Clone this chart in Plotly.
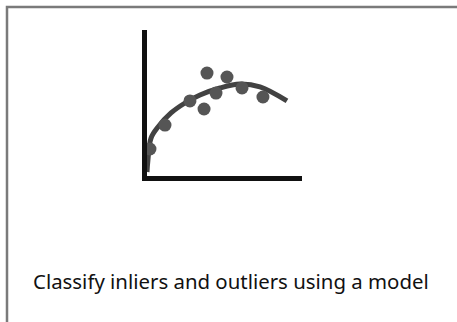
import plotly.graph_objects as go

# %% Data (in chart units 0..10)

point_x = [0.19, 1.16, 2.77, 3.68, 3.87, 4.45, 5.16, 6.13, 7.48]
point_y = [1.85, 3.49, 5.14, 4.59, 7.05, 5.68, 6.78, 6.03, 5.41]

curve_x = [0.0, 0.06, 0.26, 0.71, 1.55, 2.45, 3.42, 4.71, 6.00, 7.29, 9.03]
curve_y = [0.27, 1.10, 2.60, 3.36, 4.32, 5.00, 5.55, 6.03, 6.30, 6.10, 5.14]

caption = "Classify inliers and outliers using a model"

# %% Figure

width_px = 457
height_px = 322

fig = go.Figure()

fig.add_trace(go.Scatter(
    x=curve_x,
    y=curve_y,
    mode="lines",
    line={"color": "#424242", "width": 5, "shape": "spline"},
    showlegend=False,
    hoverinfo="skip",
))

fig.add_trace(go.Scatter(
    x=point_x,
    y=point_y,
    mode="markers",
    marker={"color": "#555555", "size": 13, "line": {"width": 0}},
    showlegend=False,
    cliponaxis=False,
))

axis_common = {
    "showgrid": False,
    "zeroline": False,
    "showticklabels": False,
    "ticks": "",
    "showline": True,
    "linecolor": "#111111",
    "linewidth": 5,
    "range": [0, 10],
    "fixedrange": True,
}

fig.update_xaxes(domain=[147 / width_px, 302 / width_px], **axis_common)
fig.update_yaxes(domain=[(height_px - 176) / height_px, (height_px - 30) / height_px], **axis_common)

# Frame of the card: only top and left edges fall inside the picture
fig.add_shape(
    type="rect",
    xref="paper",
    yref="paper",
    x0=7 / width_px,
    x1=1.05,
    y0=-0.05,
    y1=1 - 7 / height_px,
    line={"color": "#7a7a7a", "width": 2.5},
    fillcolor="rgba(0,0,0,0)",
)

fig.add_annotation(
    text=caption,
    xref="paper",
    yref="paper",
    x=231 / width_px,
    y=1 - 281 / height_px,
    xanchor="center",
    yanchor="middle",
    showarrow=False,
    font={"family": "Noto Sans", "size": 20.4, "color": "#111111"},
)

fig.update_layout(
    width=width_px,
    height=height_px,
    margin={"l": 0, "r": 0, "t": 0, "b": 0},
    paper_bgcolor="white",
    plot_bgcolor="white",
)

# the page body has a default 8px margin; drop it so the figure sits at 0,0
fig.write_html(
    "out.html",
    config={"displayModeBar": False},
    post_script="document.body.style.margin = '0';",
)
